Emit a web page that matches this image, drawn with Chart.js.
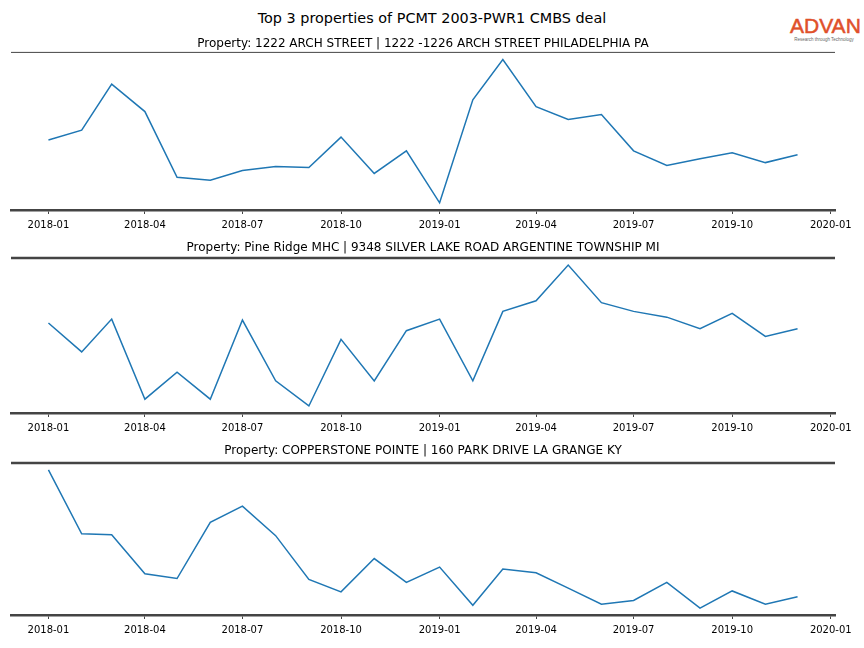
<!DOCTYPE html>
<html>
<head>
<meta charset="utf-8">
<script src="https://cdn.jsdelivr.net/npm/chart.js@4"></script>
<style>
    body { margin: 0; background: #fff; }
    #page { position: relative; width: 864px; height: 648px; font-family: "DejaVu Sans", sans-serif; }
    .panel { position: absolute; left: 0; width: 864px; }
    #suptitle { position: absolute; top: 10px; left: 0; width: 864px; text-align: center; font-size: 14.4px; color: #000; }
    #logo { position: absolute; top: 15px; left: 790px; width: 68px; text-align: center; }
    #logo .name { font-family: "Liberation Sans", sans-serif; font-size: 21px; color: #e0502a; letter-spacing: 0; line-height: 22px; -webkit-text-stroke: 0.5px #e0502a; }
    #logo .tag { font-family: "Liberation Sans", sans-serif; font-size: 4.5px; color: #666; line-height: 6px; white-space: nowrap; }
</style>
</head>
<body>
<div id="page">
    <div id="suptitle">Top 3 properties of PCMT 2003-PWR1 CMBS deal</div>
    <div id="logo"><div class="name">ADVAN</div><div class="tag">Research through Technology</div></div>
    <div class="panel" style="top:37px;height:203px"><canvas id="chart1"></canvas></div>
    <div class="panel" style="top:241px;height:202px"><canvas id="chart2"></canvas></div>
    <div class="panel" style="top:444px;height:201px"><canvas id="chart3"></canvas></div>
</div>
<script>
const months = ['2018-01', '2018-02', '2018-03', '2018-04', '2018-05', '2018-06',
                '2018-07', '2018-08', '2018-09', '2018-10', '2018-11', '2018-12',
                '2019-01', '2019-02', '2019-03', '2019-04', '2019-05', '2019-06',
                '2019-07', '2019-08', '2019-09', '2019-10', '2019-11', '2019-12'];

const archStreet = [70, 80, 127, 99, 32, 29, 39, 43, 42, 73, 36, 59,
                    6, 111, 152, 104, 91, 96, 59, 44, 51, 57, 47, 55];
const pineRidge = [89, 59, 93, 10, 38, 10, 92, 29, 3, 72, 29, 81,
                   93, 29, 101, 112, 149, 110, 101, 95, 83, 99, 75, 83];
const copperstone = [148, 81, 80, 39, 34, 93, 110, 79, 33, 20, 55, 30,
                     46, 6, 44, 40, 24, 7, 11, 30, 3, 21, 7, 15];

const titles = [
    'Property: 1222 ARCH STREET | 1222 -1226 ARCH STREET PHILADELPHIA PA',
    'Property: Pine Ridge MHC | 9348 SILVER LAKE ROAD ARGENTINE TOWNSHIP MI',
    'Property: COPPERSTONE POINTE | 160 PARK DRIVE LA GRANGE KY'
];
const tickLabels = ['2018-01', '2018-04', '2018-07', '2018-10', '2019-01',
                    '2019-04', '2019-07', '2019-10', '2020-01'];

// dates -> days since epoch, so the x axis is spaced like a real calendar
function toDay(ym)
{
    const [y, m] = ym.split('-').map(Number);
    return Date.UTC(y, m - 1, 1) / 86400000;
}
function fromDay(d)
{
    const dt = new Date(d * 86400000);
    return dt.getUTCFullYear() + '-' + String(dt.getUTCMonth() + 1).padStart(2, '0');
}

const xs = months.map(toDay);
const xSpan = xs[xs.length - 1] - xs[0];
const xMin = xs[0] - 0.05 * xSpan;
const xMax = xs[xs.length - 1] + 0.05 * xSpan;
const tickDays = tickLabels.map(toDay);

const topSpine = {
    id: 'topSpine',
    afterDraw(chart, args, opts) {
        const a = chart.chartArea;
        const ctx = chart.ctx;
        ctx.save();
        ctx.strokeStyle = '#444';
        ctx.lineWidth = opts.width;
        ctx.beginPath();
        ctx.moveTo(a.left, a.top);
        ctx.lineTo(a.right, a.top);
        ctx.stroke();
        ctx.restore();
    }
};

function makeChart(id, values, title, titleGap, spineWidth)
{
    const lo = Math.min(...values), hi = Math.max(...values);
    const pad = 0.05 * (hi - lo);
    new Chart(document.getElementById(id), {
        type: 'line',
        data: {
            datasets: [{
                data: values.map((v, i) => ({ x: xs[i], y: v })),
                borderColor: '#1f77b4',
                borderWidth: 1.5,
                pointRadius: 0,
                tension: 0,
                fill: false
            }]
        },
        options: {
            responsive: true,
            maintainAspectRatio: false,
            animation: false,
            layout: { padding: { left: 11, right: 29, top: 0, bottom: 4 } },
            plugins: {
                legend: { display: false },
                tooltip: { enabled: false },
                title: {
                    display: true,
                    text: title,
                    color: '#000',
                    font: { family: 'DejaVu Sans', size: 12, weight: 'normal' },
                    padding: { top: 0, bottom: titleGap }
                },
                topSpine: { width: spineWidth }
            },
            scales: {
                x: {
                    type: 'linear',
                    min: xMin,
                    max: xMax,
                    afterBuildTicks: axis => { axis.ticks = tickDays.map(v => ({ value: v })); },
                    ticks: {
                        color: '#000',
                        font: { family: 'DejaVu Sans', size: 10 },
                        padding: 5,
                        maxRotation: 0,
                        autoSkip: false,
                        callback: v => fromDay(v)
                    },
                    grid: {
                        display: true,
                        drawOnChartArea: false,
                        drawTicks: true,
                        tickLength: 4,
                        tickColor: '#444'
                    },
                    border: { display: true, color: '#444', width: 2.5 }
                },
                y: {
                    display: false,
                    min: lo - pad,
                    max: hi + pad
                }
            }
        },
        plugins: [topSpine]
    });
}

makeChart('chart1', archStreet, titles[0], 1, 1);
makeChart('chart2', pineRidge, titles[1], 2.6, 2.5);
makeChart('chart3', copperstone, titles[2], 4.6, 2.5);
</script>
</body>
</html>
